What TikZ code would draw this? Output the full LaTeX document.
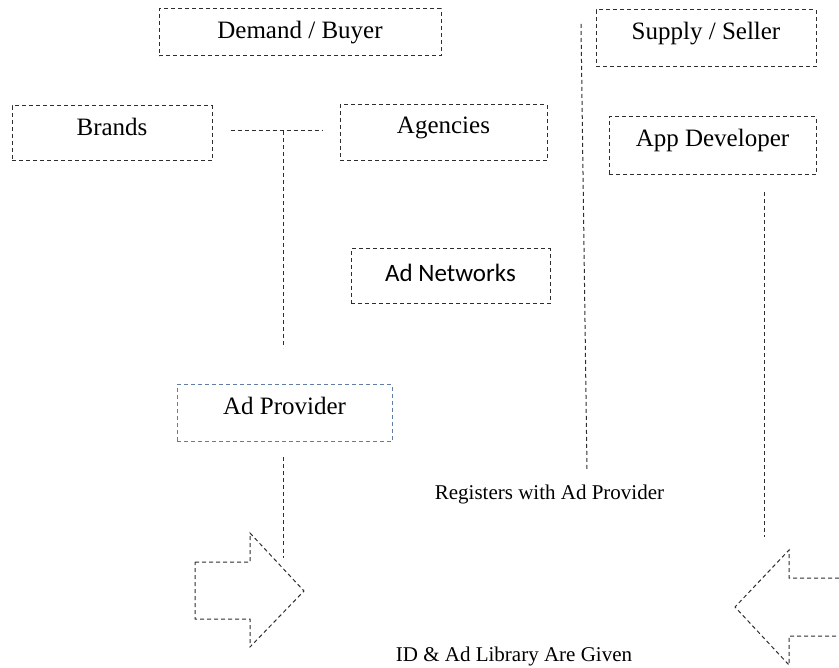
\documentclass[tikz,border=0pt]{standalone}
\usepackage{fontspec}
\setmainfont{Liberation Serif}
\newfontfamily\calfont{Carlito}
\begin{document}
\begin{tikzpicture}[x=1pt,y=-1pt,
  dashline/.style={draw=black!82,line width=1pt,dash pattern=on 4pt off 3pt},
  box/.style={dashline,rectangle,inner sep=0pt,text height=17pt,
    font=\fontsize{25}{28}\selectfont},
  provbox/.style={box,draw={rgb,255:red,95;green,125;blue,165}},
  caption/.style={anchor=base,inner sep=0pt,font=\fontsize{21}{24}\selectfont}]
\useasboundingbox (0,0) rectangle (839,668);

% demand side
\node[box,minimum width=282pt,minimum height=47pt,text depth=4pt] (demand) at (300,32.5) {Demand / Buyer};
\node[box,minimum width=200pt,minimum height=55pt,text depth=12pt] (brands) at (112,133.5) {Brands};
\node[box,minimum width=207pt,minimum height=56pt,text depth=15pt] (agencies) at (443.5,133) {Agencies};
\node[box,minimum width=199pt,minimum height=55pt,text depth=6pt,font=\calfont\fontsize{25}{28}\selectfont] (networks) at (450.5,276.5) {Ad Networks};
\node[provbox,minimum width=215pt,minimum height=57pt,text depth=14pt] (provider) at (284.5,413.5) {Ad Provider};

% supply side
\node[box,minimum width=220pt,minimum height=57pt,text depth=14pt] (supply) at (706,38.5) {Supply / Seller};
\node[box,minimum width=207pt,minimum height=58pt,text depth=15pt] (appdev) at (712.5,146) {App Developer};

% captions
\node[caption] (registers) at (549.5,500) {Registers with Ad Provider};
\node[caption] (given) at (514,661) {ID \& Ad Library Are Given};

% connectors
\coordinate (bjoin) at ([xshift=18pt]brands.east |- 0,131);
\coordinate (ajoin) at ([xshift=-17pt]agencies.west |- 0,131);
\coordinate (junction) at (283,131);
\coordinate (jend) at (283,348);
\draw[dashline] (bjoin) -- (ajoin);
\draw[dashline] (junction) -- (jend);

\coordinate (provdown) at ([yshift=-15pt]provider.south -| 283,0);
\coordinate (provend) at (283,558);
\draw[dashline] (provdown) -- (provend);

\coordinate (divtop) at (581,24);
\coordinate (divbot) at (587,470);
\draw[dashline] (divtop) -- (divbot);

\coordinate (appdown) at (764,192);
\coordinate (append) at (764,537);
\draw[dashline] (appdown) -- (append);

% block arrows
\draw[dashline] (195,562) -- (250,562) -- (250,533) -- (304,591) -- (250,647)
  -- (250,619) -- (195,619) -- cycle;
\draw[dashline] (839,578) -- (789,578) -- (789,550) -- (735,607) -- (789,665)
  -- (789,636) -- (839,636);
\end{tikzpicture}
\end{document}
